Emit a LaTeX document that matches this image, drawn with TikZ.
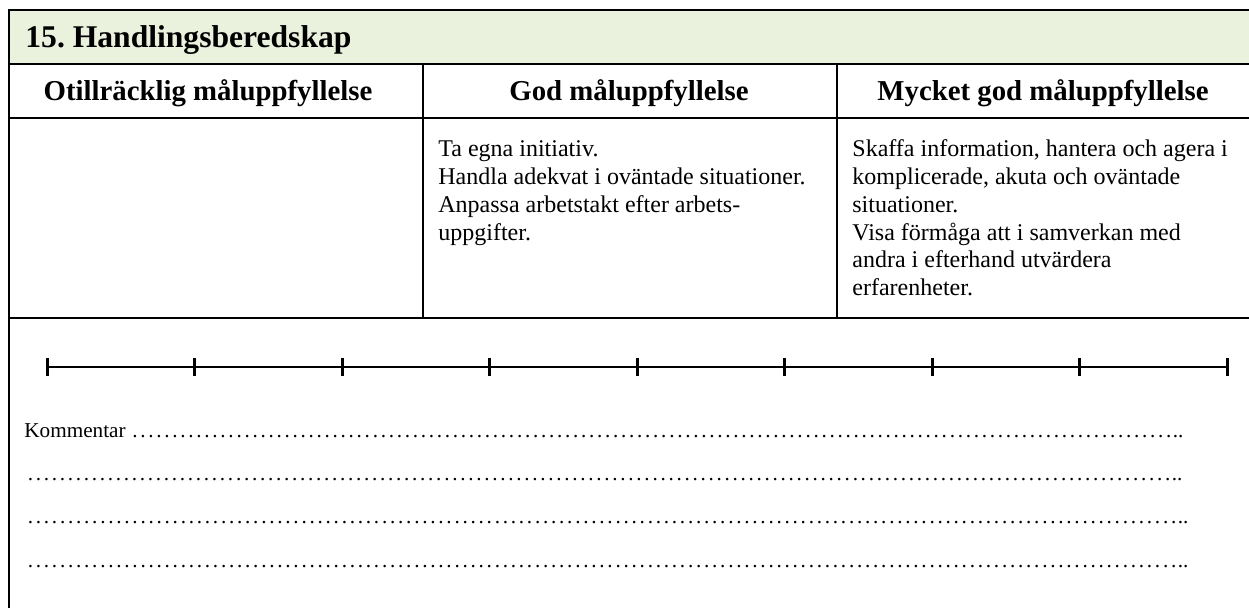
\documentclass[tikz,border=0pt]{standalone}
\usepackage{fontspec}
\setmainfont{Liberation Serif}
\definecolor{titlegreen}{HTML}{EAF1DD}
\newcommand{\dotleader}{\xleaders\hbox to 4pt{\hss.\hss}\hfill}
\begin{document}
\begin{tikzpicture}[x=0.5pt,y=-0.5pt,
	rule/.style={line width=1pt},
	headcell/.style={anchor=base,inner sep=0pt,font=\fontsize{14.4}{17}\selectfont\bfseries},
	textcell/.style={anchor=base west,inner sep=0pt,font=\fontsize{12}{13.85}\selectfont},
	noteline/.style={anchor=base west,inner sep=0pt,font=\fontsize{10.6}{12}\selectfont}]
	\useasboundingbox (0,0) rectangle (1249,608);
	% table
	\fill[titlegreen] (9,10) rectangle (1249,64);
	\draw[rule] (1249,10) -- (9,10) -- (9,608);
	\draw[rule] (9,64) -- (1249,64);
	\draw[rule] (9,118) -- (1249,118);
	\draw[rule] (9,318) -- (1249,318);
	\draw[rule] (423,64) -- (423,318);
	\draw[rule] (837,64) -- (837,318);
	\node[anchor=base west,inner sep=0pt,font=\fontsize{15.8}{19}\selectfont\bfseries] at (25,48) (title) {15.\ Handlingsberedskap};
	\node[headcell] at (208,101) (h1) {Otillräcklig måluppfyllelse};
	\node[headcell] at (629,101) (h2) {God måluppfyllelse};
	\node[headcell] at (1043,101) (h3) {Mycket god måluppfyllelse};
	\node[textcell] at (438,157) (c2) {\parbox[t]{195pt}{\raggedright Ta egna initiativ.\\Handla adekvat i oväntade situationer.\\Anpassa arbetstakt efter arbets-\\uppgifter.}};
	\node[textcell] at (852,157) (c3) {\parbox[t]{195pt}{\raggedright Skaffa information, hantera och agera i\\komplicerade, akuta och oväntade\\situationer.\\Visa förmåga att i samverkan med\\andra i efterhand utvärdera\\erfarenheter.}};
	% scale
	\foreach \i in {0,...,8}
		\coordinate (t\i) at (47+147.5*\i,367);
	\draw[rule] (t0) -- (t8);
	\foreach \i in {0,...,8}
		\draw[line width=1.5pt] ([yshift=4.5pt]t\i) -- ([yshift=-4.5pt]t\i);
	% comments
	\node[noteline] at (24,438) (k1) {\hbox to 579.5pt{Kommentar \dotleader..}};
	\node[noteline] at (26,481) (k2) {\hbox to 578pt{\dotleader..}};
	\node[noteline] at (26,524) (k3) {\hbox to 581pt{\dotleader..}};
	\node[noteline] at (26,568) (k4) {\hbox to 581pt{\dotleader..}};
\end{tikzpicture}
\end{document}
